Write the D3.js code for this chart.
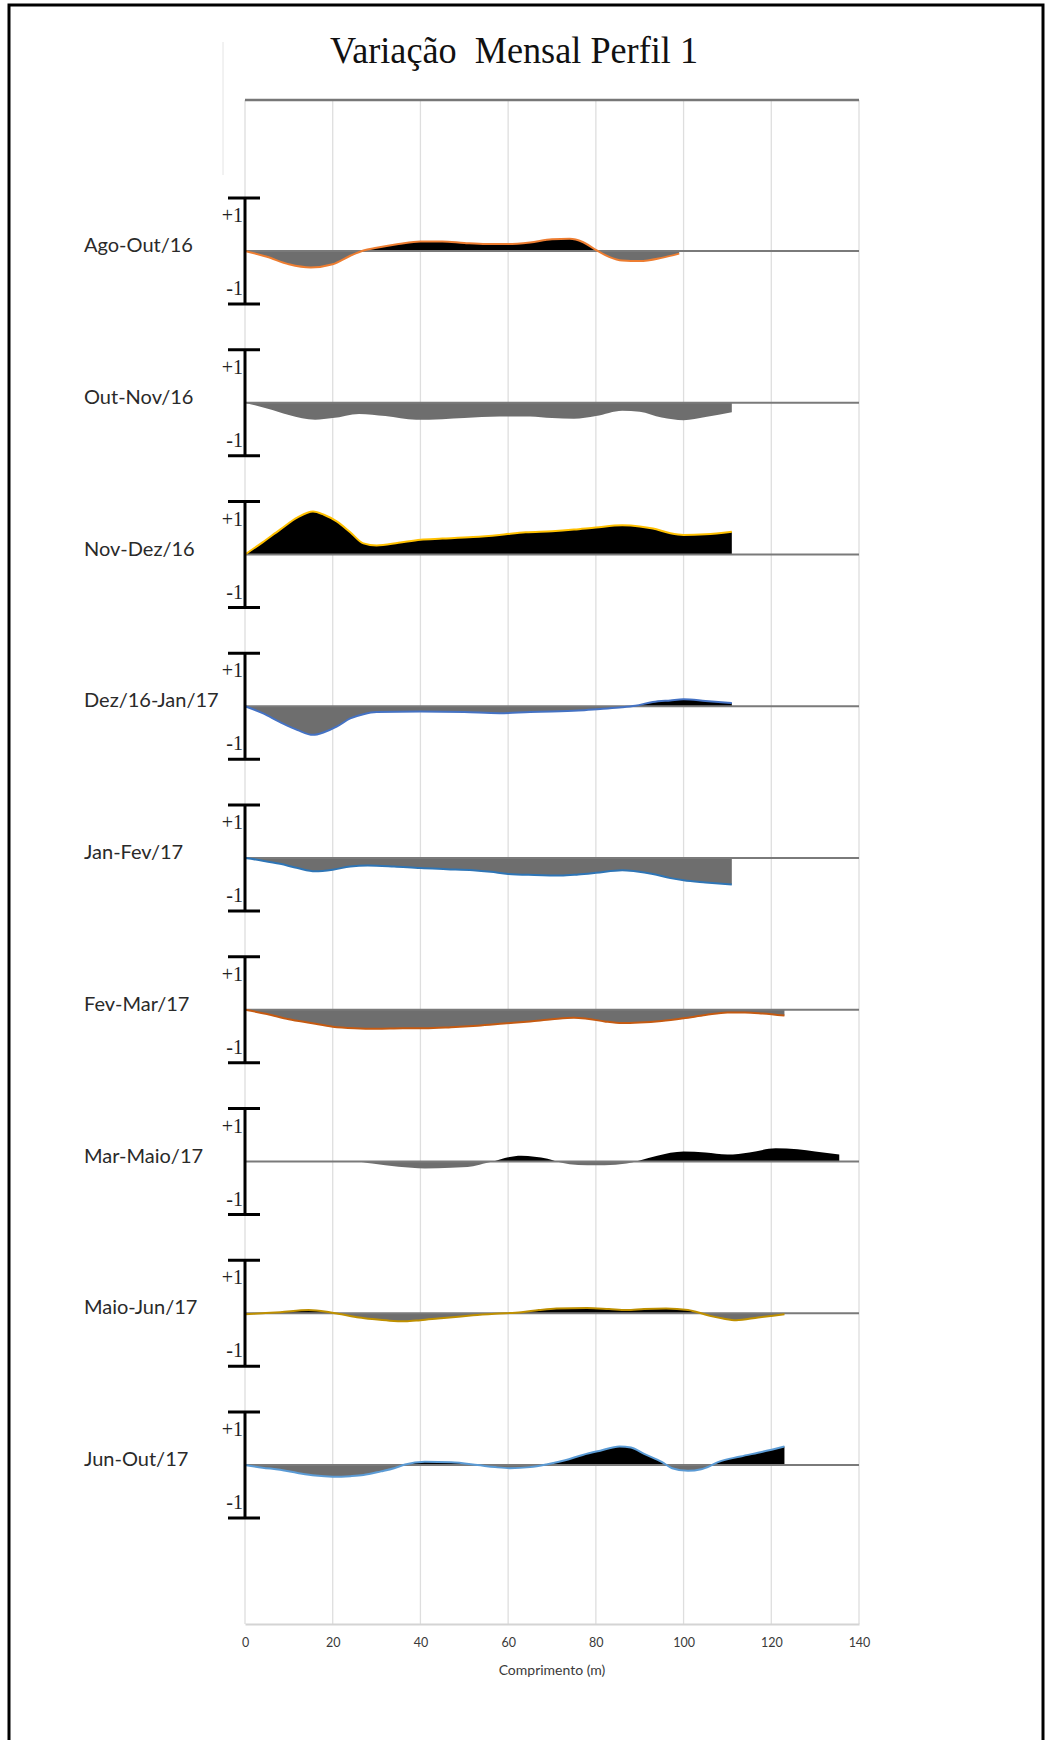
<!DOCTYPE html>
<html>
<head>
<meta charset="utf-8">
<script src="https://cdn.jsdelivr.net/npm/d3@7"></script>
<style>
  html, body { margin: 0; padding: 0; background: #fff; }
  svg { display: block; }
</style>
</head>
<body>
<svg id="chart" width="1046" height="1740"></svg>
<script>
// Monthly elevation change along profile 1 (distance in m, change in bracket units)
const panelLabels = ["Ago-Out/16", "Out-Nov/16", "Nov-Dez/16", "Dez/16-Jan/17", "Jan-Fev/17",
                     "Fev-Mar/17", "Mar-Maio/17", "Maio-Jun/17", "Jun-Out/17"];

const xTicks = [0, 20, 40, 60, 80, 100, 120, 140];

const agoOut16 = [[0,0],[5,-0.11],[10,-0.25],[15,-0.31],[20,-0.25],[24,-0.09],[27,0.01],[30,0.06],[35,0.13],
  [40,0.18],[45,0.18],[50,0.15],[55,0.13],[60,0.13],[65,0.16],[70,0.22],[74,0.23],[77,0.17],[80,0.02],
  [83,-0.11],[86,-0.18],[90,-0.19],[95,-0.13],[99,-0.05]];

const outNov16 = [[0,0],[5,-0.11],[10,-0.23],[16,-0.32],[20,-0.29],[26,-0.21],[32,-0.25],[39,-0.32],[45,-0.31],
  [50,-0.29],[58,-0.26],[65,-0.26],[70,-0.29],[75,-0.30],[80,-0.25],[86,-0.15],[90,-0.17],[95,-0.28],
  [100,-0.33],[105,-0.27],[111,-0.18]];

const novDez16 = [[0,0],[4,0.23],[8,0.47],[12,0.70],[15.5,0.81],[18,0.75],[21,0.62],[24,0.42],[27,0.21],[30,0.17],
  [35,0.22],[40,0.28],[45,0.30],[52,0.33],[58,0.37],[64,0.42],[70,0.44],[75,0.47],[80,0.51],[86,0.55],
  [90,0.53],[93,0.49],[97,0.40],[100,0.37],[105,0.38],[111,0.43]];

const dez16Jan17 = [[0,0],[4,-0.13],[8,-0.30],[12,-0.45],[15.5,-0.54],[18,-0.49],[21,-0.38],[24,-0.23],[27,-0.15],
  [30,-0.11],[40,-0.10],[50,-0.11],[58,-0.13],[65,-0.11],[70,-0.10],[76,-0.08],[81,-0.05],[86,-0.02],
  [89,0.01],[93,0.08],[97,0.11],[100,0.13],[105,0.10],[111,0.06]];

const janFev17 = [[0,0],[4,-0.05],[8,-0.11],[12,-0.19],[16,-0.25],[20,-0.22],[24,-0.16],[28,-0.14],[34,-0.16],
  [40,-0.19],[46,-0.21],[52,-0.23],[56,-0.26],[60,-0.30],[66,-0.32],[72,-0.33],[76,-0.31],[80,-0.28],
  [86,-0.23],[89,-0.25],[93,-0.30],[97,-0.38],[100,-0.42],[105,-0.46],[111,-0.50]];

const fevMar17 = [[0,0],[5,-0.08],[10,-0.18],[15,-0.25],[20,-0.32],[25,-0.35],[30,-0.36],[36,-0.35],[41,-0.35],
  [47,-0.33],[53,-0.30],[59,-0.26],[65,-0.22],[70,-0.18],[75,-0.15],[78,-0.17],[82,-0.22],[86,-0.25],
  [90,-0.24],[95,-0.21],[100,-0.16],[105,-0.10],[110,-0.05],[114,-0.05],[118,-0.07],[123,-0.11]];

const marMaio17 = [[0,0],[10,0],[20,0],[25,0],[29,-0.04],[35,-0.10],[41,-0.13],[47,-0.12],[52,-0.09],[55,-0.03],
  [57,0.01],[60,0.08],[63,0.11],[66,0.09],[69,0.05],[71,0],[74,-0.05],[78,-0.07],[82,-0.07],[87,-0.04],
  [90,0.02],[94,0.11],[100,0.19],[105,0.17],[110,0.13],[115,0.17],[121,0.25],[126,0.23],[130,0.19],[135.5,0.13]];

const maioJun17 = [[0,-0.02],[4,0],[8,0.02],[14.5,0.06],[18.6,0.03],[22,-0.02],[26,-0.08],[29,-0.11],[33,-0.14],
  [36.5,-0.15],[40,-0.13],[44,-0.10],[48,-0.07],[52,-0.04],[57,-0.01],[63,0.02],[67,0.06],[71,0.09],
  [78,0.10],[83,0.08],[87,0.06],[91,0.08],[96,0.09],[101,0.06],[104,0],[106,-0.05],[109,-0.10],
  [112,-0.13],[117,-0.08],[120,-0.05],[123,-0.02]];

const junOut17 = [[0,0],[4,-0.05],[8,-0.09],[12,-0.15],[16,-0.20],[20,-0.22],[24,-0.21],[27,-0.19],[31,-0.12],
  [34,-0.06],[36.5,0.01],[41,0.06],[47,0.05],[53,0],[57,-0.04],[60.4,-0.06],[65,-0.04],[68.7,0.01],
  [73,0.09],[77,0.19],[81,0.27],[85.4,0.35],[88,0.33],[91,0.21],[95,0.06],[97.4,-0.06],[101,-0.11],
  [104,-0.08],[106,-0.02],[108,0.06],[113,0.16],[118,0.25],[123,0.35]];

const panelSeries = [agoOut16, outNov16, novDez16, dez16Jan17, janFev17, fevMar17, marMaio17, maioJun17, junOut17];

// outline colour of each profile (null = no outline)
const outlineColors = ["#ED7D31", null, "#FFC000", "#4472C4", "#2E75B6", "#C55A11", null, "#BF9000", "#5B9BD5"];

const svg = d3.select("#chart");

// frame
svg.append("rect").attr("x", 9).attr("y", 5).attr("width", 1034).attr("height", 1745)
  .attr("fill", "none").attr("stroke", "#000").attr("stroke-width", 3);

const x = d3.scaleLinear().domain([0, 140]).range([245, 859]);
const rowY = d3.scalePoint().domain(panelLabels).range([251, 1465]);
const y = d3.scaleLinear().domain([-1, 1]).range([53, -53]);
const plotTop = 100, plotBottom = 1624;

// title (tall, narrow serif)
svg.append("text").attr("x", 514).attr("y", 63).attr("text-anchor", "middle")
  .attr("font-family", "'Liberation Serif', 'Times New Roman', serif").attr("font-size", 38)
  .attr("textLength", 368).attr("lengthAdjust", "spacingAndGlyphs")
  .attr("fill", "#111").style("white-space", "pre").text("Variação  Mensal Perfil 1");

// faint value-axis line at the upper left
svg.append("line").attr("x1", 223).attr("x2", 223).attr("y1", 42).attr("y2", 175)
  .attr("stroke", "#e4e4e4").attr("stroke-width", 1);

// vertical gridlines
svg.append("g").selectAll("line").data(xTicks).join("line")
  .attr("x1", d => x(d)).attr("x2", d => x(d)).attr("y1", plotTop).attr("y2", plotBottom)
  .attr("stroke", "#dedede").attr("stroke-width", 1.3);

// top border line of the plot area
svg.append("line").attr("x1", x(0)).attr("x2", x(140)).attr("y1", plotTop).attr("y2", plotTop)
  .attr("stroke", "#777").attr("stroke-width", 2.4);

// bottom axis
const xAxis = d3.axisBottom(x).tickValues(xTicks).tickSize(0).tickPadding(14);
const axisG = svg.append("g").attr("transform", `translate(0,${plotBottom})`).call(xAxis);
axisG.select(".domain").attr("stroke", "#d4d4d4").attr("stroke-width", 2);
axisG.selectAll("text").attr("font-family", "Lato, 'Open Sans', sans-serif").attr("font-size", 12.5)
  .attr("fill", "#3a3a3a");

svg.append("text").attr("x", x(70)).attr("y", 1675).attr("text-anchor", "middle")
  .attr("font-family", "Lato, 'Open Sans', sans-serif").attr("font-size", 14).attr("fill", "#3a3a3a")
  .text("Comprimento (m)");

// clip regions above / below each zero line
const defs = svg.append("defs");
defs.append("clipPath").attr("id", "clipUp").append("rect")
  .attr("x", 0).attr("y", -120).attr("width", 1046).attr("height", 120);
defs.append("clipPath").attr("id", "clipDown").append("rect")
  .attr("x", 0).attr("y", 0).attr("width", 1046).attr("height", 120);

const curve = d3.curveMonotoneX;
const area = d3.area().x(d => x(d[0])).y0(y(0)).y1(d => y(d[1])).curve(curve);
const line = d3.line().x(d => x(d[0])).y(d => y(d[1])).curve(curve);

panelLabels.forEach((label, i) => {
  const g = svg.append("g").attr("transform", `translate(0,${rowY(label)})`);
  const data = panelSeries[i];

  // row label
  g.append("text").attr("x", 84).attr("y", -4).attr("dominant-baseline", "middle")
    .attr("font-family", "Lato, 'Open Sans', sans-serif").attr("font-size", 20).attr("fill", "#2a2a2a")
    .text(label);

  // filled change: black = accretion, gray = erosion
  g.append("path").datum(data).attr("d", area).attr("fill", "#000").attr("clip-path", "url(#clipUp)");
  g.append("path").datum(data).attr("d", area).attr("fill", "#6e6e6e").attr("clip-path", "url(#clipDown)");

  // zero line
  g.append("line").attr("x1", x(0)).attr("x2", x(140)).attr("y1", y(0)).attr("y2", y(0))
    .attr("stroke", "#7a7a7a").attr("stroke-width", 1.8);

  if (outlineColors[i]) {
    g.append("path").datum(data).attr("d", line).attr("fill", "none")
      .attr("stroke", outlineColors[i]).attr("stroke-width", 2);
  }

  // ±1 scale bracket
  const b = g.append("g").attr("stroke", "#000").attr("stroke-width", 3);
  b.append("line").attr("x1", x(0)).attr("x2", x(0)).attr("y1", y(1)).attr("y2", y(-1));
  b.append("line").attr("x1", x(0) - 17).attr("x2", x(0) + 15).attr("y1", y(1)).attr("y2", y(1));
  b.append("line").attr("x1", x(0) - 17).attr("x2", x(0) + 15).attr("y1", y(-1)).attr("y2", y(-1));

  const serif = "'Liberation Serif', 'Times New Roman', serif";
  g.append("text").attr("x", x(0) - 2).attr("y", y(1) + 24).attr("text-anchor", "end")
    .attr("font-family", serif).attr("font-size", 20).attr("fill", "#222").text("+1");
  g.append("text").attr("x", x(0) - 2).attr("y", y(-1) - 9).attr("text-anchor", "end")
    .attr("font-family", serif).attr("font-size", 20).attr("fill", "#222").text("-1");
});
</script>
</body>
</html>
